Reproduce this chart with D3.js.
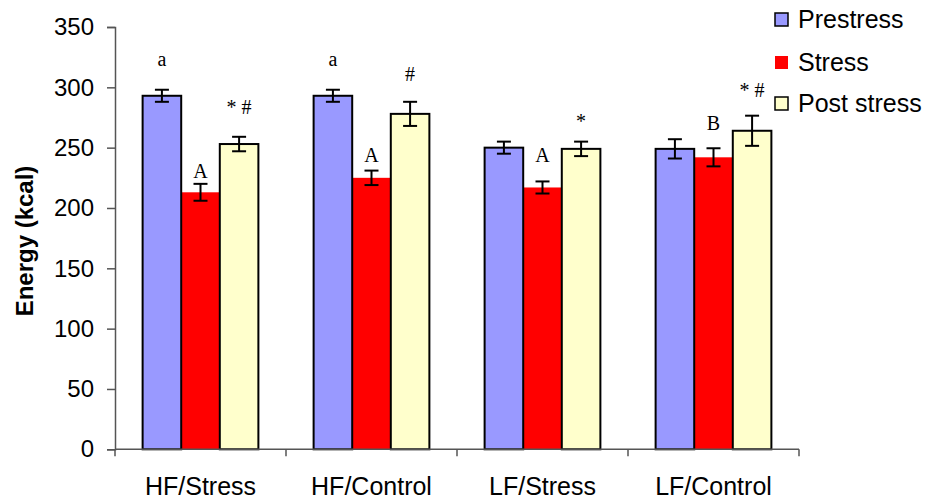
<!DOCTYPE html>
<html>
<head>
<meta charset="utf-8">
<script src="https://cdn.jsdelivr.net/npm/d3@7"></script>
<style>
  html, body { margin: 0; padding: 0; background: #fff; }
  svg { display: block; }
</style>
</head>
<body>
<svg id="chart" width="934" height="504"></svg>
<script>
// Groups and series
const categories = ["HF/Stress", "HF/Control", "LF/Stress", "LF/Control"];
const seriesNames = ["Prestress", "Stress", "Post stress"];

// Mean energy intake (kcal) per group
const prestress = [293, 293, 250, 249];
const stress = [213, 225, 217, 242];
const poststress = [253, 278, 249, 264];

// Standard errors (kcal)
const prestressErr = [5, 5, 5, 8];
const stressErr = [7, 6, 5, 7.5];
const poststressErr = [6, 10, 6, 12.5];

const yTicks = [0, 50, 100, 150, 200, 250, 300, 350];

// Significance marks: group index, series index, text, level (kcal) of the text baseline
const marks = [
  { g: 0, s: 0, text: "a", level: 318 },
  { g: 0, s: 1, text: "A", level: 225 },
  { g: 0, s: 2, text: "* #", level: 278 },
  { g: 1, s: 0, text: "a", level: 318 },
  { g: 1, s: 1, text: "A", level: 238 },
  { g: 1, s: 2, text: "#", level: 305 },
  { g: 2, s: 1, text: "A", level: 238 },
  { g: 2, s: 2, text: "*", level: 266 },
  { g: 3, s: 1, text: "B", level: 265 },
  { g: 3, s: 2, text: "* #", level: 292 }
];

const colors = ["#9999FF", "#FF0000", "#FFFFCC"];
const values = [prestress, stress, poststress];
const errors = [prestressErr, stressErr, poststressErr];

const svg = d3.select("#chart");
const sans = "'Liberation Sans', Arial, Helvetica, sans-serif";
const serif = "'Liberation Serif', 'Times New Roman', Times, serif";

const plotLeft = 115, plotRight = 799, plotTop = 27, plotBottom = 449.3;

const y = d3.scaleLinear().domain([0, 350]).range([plotBottom, plotTop]);
const padIn = 0.323;
const x0 = d3.scaleBand().domain(categories).range([plotLeft, plotRight])
  .paddingInner(padIn).paddingOuter(padIn / 2);
const x1 = d3.scaleBand().domain(d3.range(seriesNames.length)).range([0, x0.bandwidth()]);

// Bars
const rows = [];
categories.forEach((c, g) => {
  seriesNames.forEach((s, k) => {
    rows.push({ g, k, cat: c, v: values[k][g], e: errors[k][g] });
  });
});

const barG = svg.append("g");
// red series drawn first so the outlined neighbours sit on top of it
const order = rows.slice().sort((a, b) => (a.k === 1 ? 0 : 1) - (b.k === 1 ? 0 : 1));
barG.selectAll("rect").data(order).join("rect")
  .attr("x", d => x0(d.cat) + x1(d.k))
  .attr("y", d => y(d.v))
  .attr("width", x1.bandwidth())
  .attr("height", d => y(0) - y(d.v))
  .attr("fill", d => colors[d.k])
  .attr("stroke", d => d.k === 1 ? "none" : "#000")
  .attr("stroke-width", 2);

// Error bars
const errG = svg.append("g").attr("stroke", "#000").attr("stroke-width", 2);
const cap = 7;
rows.forEach(d => {
  const cx = x0(d.cat) + x1(d.k) + x1.bandwidth() / 2;
  const y1 = y(d.v + d.e), y2 = y(d.v - d.e);
  errG.append("line").attr("x1", cx).attr("x2", cx).attr("y1", y1).attr("y2", y2);
  errG.append("line").attr("x1", cx - cap).attr("x2", cx + cap).attr("y1", y1).attr("y2", y1);
  errG.append("line").attr("x1", cx - cap).attr("x2", cx + cap).attr("y1", y2).attr("y2", y2);
});

// Y axis
const yAxis = svg.append("g")
  .attr("transform", `translate(${plotLeft},0)`)
  .call(d3.axisLeft(y).tickValues(yTicks).tickSize(8).tickPadding(13).tickFormat(d3.format("d")));
yAxis.select(".domain").attr("stroke", "#555").attr("stroke-width", 1.5);
yAxis.selectAll(".tick line").attr("stroke", "#555").attr("stroke-width", 1.5);
yAxis.selectAll("text").attr("font-family", sans).attr("font-size", 24).attr("fill", "#000");

// X axis: labels at group centres, ticks at group boundaries
const xAxis = svg.append("g")
  .attr("transform", `translate(0,${plotBottom})`)
  .call(d3.axisBottom(x0).tickSize(0).tickPadding(28));
xAxis.select(".domain").remove();
xAxis.selectAll("text").attr("font-family", sans).attr("font-size", 25).attr("fill", "#000");

const gapHalf = (x0.step() - x0.bandwidth()) / 2;
const bounds = categories.map(c => x0(c) - gapHalf)
  .concat([x0(categories[categories.length - 1]) + x0.bandwidth() + gapHalf]);
const xLine = svg.append("g").attr("stroke", "#555").attr("stroke-width", 1.5);
xLine.append("line").attr("x1", plotLeft).attr("x2", plotRight).attr("y1", y(0)).attr("y2", y(0));
xLine.selectAll("line.b").data(bounds).join("line").attr("class", "b")
  .attr("x1", d => d).attr("x2", d => d)
  .attr("y1", y(0)).attr("y2", y(0) + 7);

// Y axis title
svg.append("text")
  .attr("transform", "translate(33,241) rotate(-90)")
  .attr("text-anchor", "middle")
  .attr("font-family", sans).attr("font-size", 24).attr("font-weight", "bold")
  .text("Energy (kcal)");

// Significance marks
svg.append("g").selectAll("text").data(marks).join("text")
  .attr("x", d => x0(categories[d.g]) + x1(d.s) + x1.bandwidth() / 2)
  .attr("y", d => y(d.level))
  .attr("text-anchor", "middle")
  .attr("font-family", serif).attr("font-size", 20)
  .text(d => d.text);

// Legend
const legend = svg.append("g");
const legendRows = [28, 71, 112];
seriesNames.forEach((s, k) => {
  const by = legendRows[k];
  legend.append("rect")
    .attr("x", 775).attr("y", by - 15).attr("width", 13).attr("height", 13)
    .attr("fill", colors[k])
    .attr("stroke", k === 1 ? "none" : "#000").attr("stroke-width", 1.5);
  legend.append("text")
    .attr("x", 798).attr("y", by)
    .attr("font-family", sans).attr("font-size", 25)
    .text(s);
});
</script>
</body>
</html>
